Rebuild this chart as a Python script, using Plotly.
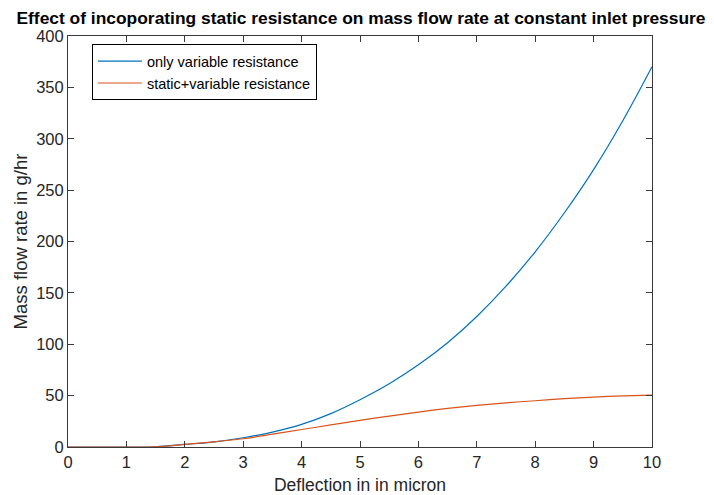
import plotly.graph_objects as go

x_vals = [0, 0.5, 1, 1.5, 2, 2.5, 3, 3.5, 4, 4.5, 5, 5.5, 6, 6.5, 7, 7.5, 8, 8.5, 9, 9.5, 10]
only_variable = [0, 0, 0, 0.2, 2.5, 5, 9, 14.5, 22, 32.5, 46, 61.5, 80, 101.5, 127, 156.5, 190, 228, 270, 317.5, 370]
static_variable = [0, 0, 0, 0.2, 2.5, 5, 8, 12.5, 17, 21.5, 26, 30, 34, 37.5, 40.5, 43, 45, 47, 48.5, 49.8, 50.5]

x_ticks = [0, 1, 2, 3, 4, 5, 6, 7, 8, 9, 10]
y_ticks = [0, 50, 100, 150, 200, 250, 300, 350, 400]

font_family = "Liberation Sans, Arial, sans-serif"
axis_color = "#3a3a3a"
text_color = "#262626"

fig = go.Figure()
fig.add_trace(go.Scatter(x=x_vals, y=only_variable, mode="lines", name="only variable resistance",
                         line=dict(color="#0072BD", width=1.2, shape="spline", smoothing=1.0)))
fig.add_trace(go.Scatter(x=x_vals, y=static_variable, mode="lines", name="static+variable resistance",
                         line=dict(color="#D95319", width=1.2, shape="spline", smoothing=0.8)))

axis_common = dict(showgrid=False, zeroline=False, showline=True, linecolor=axis_color, linewidth=1,
                   mirror="allticks", ticks="inside", ticklen=6, tickcolor=axis_color, automargin=False,
                   tickfont=dict(family=font_family, size=16.5, color=text_color))

fig.update_layout(
    width=706, height=487,
    margin=dict(l=60, r=62, t=28, b=48),
    paper_bgcolor="white", plot_bgcolor="white",
    title=dict(text="<b>Effect of incoporating static resistance on mass flow rate at constant inlet pressure</b>",
               x=0.5, xanchor="center", y=0.979, yanchor="middle", automargin=False,
               font=dict(family=font_family, size=17.4, color="black")),
    xaxis=dict(range=[0, 10], tickvals=x_ticks,
               title=dict(text="Deflection in in micron", font=dict(family=font_family, size=17.5, color=text_color), standoff=11),
               **axis_common),
    yaxis=dict(range=[0, 400], tickvals=y_ticks,
               title=dict(text="Mass flow rate in g/hr", font=dict(family=font_family, size=18.5, color=text_color), standoff=3),
               **axis_common),
    legend=dict(x=0.041, y=0.98, xanchor="left", yanchor="top", bgcolor="white",
                bordercolor="black", borderwidth=1,
                font=dict(family=font_family, size=14.5, color="black"),
                tracegroupgap=0, itemwidth=44),
    showlegend=True,
)

fig.write_html("out.html")
